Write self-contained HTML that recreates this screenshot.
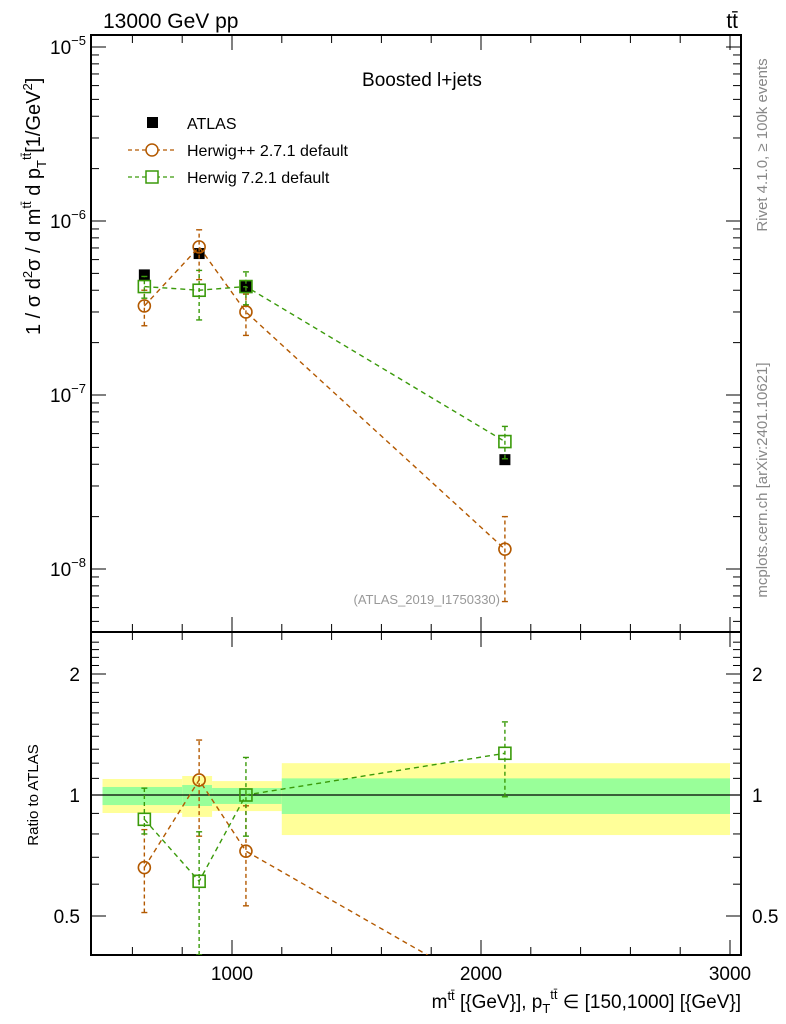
<!DOCTYPE html>
<html><head><meta charset="utf-8">
<style>
html,body{margin:0;padding:0;background:#fff;overflow:hidden;width:786px;height:1024px;}
svg{display:block;font-family:"Liberation Sans",sans-serif;}
</style></head>
<body>
<svg id="chart" width="786" height="1024" xmlns="http://www.w3.org/2000/svg">
<text x="103" y="28" font-size="21">13000 GeV pp</text>
<text x="738" y="28" font-size="21" text-anchor="end">tt̄</text>
<text x="422" y="86" font-size="19" text-anchor="middle">Boosted l+jets</text>
<text x="500" y="604" font-size="13" fill="#999" text-anchor="end">(ATLAS_2019_I1750330)</text>
<text transform="translate(767,145) rotate(-90)" font-size="15" fill="#888" text-anchor="middle">Rivet 4.1.0, ≥ 100k events</text>
<text transform="translate(767,480) rotate(-90)" font-size="15" fill="#888" text-anchor="middle">mcplots.cern.ch [arXiv:2401.10621]</text>
<text transform="translate(40,335) rotate(-90)" font-size="20">1 / σ d<tspan font-size="13" dy="-8">2</tspan><tspan dy="8">σ / d  m</tspan><tspan font-size="13" dy="-9">tt̄</tspan><tspan dy="9"> d p</tspan><tspan font-size="13" dy="6">T</tspan><tspan font-size="13" dy="-15">tt̄</tspan><tspan dy="9">[1/GeV</tspan><tspan font-size="13" dy="-8">2</tspan><tspan dy="8">]</tspan></text>
<text transform="translate(38,795) rotate(-90)" font-size="15" text-anchor="middle">Ratio to ATLAS</text>
<text x="741" y="1008" font-size="19" text-anchor="end">m<tspan font-size="13" dy="-8">tt̄</tspan><tspan dy="8"> [{GeV}], p</tspan><tspan font-size="13" dy="5">T</tspan><tspan font-size="13" dy="-14">tt̄</tspan><tspan dy="9"> ∈ [150,1000] [{GeV}]</tspan></text>
<g>
 <rect x="147" y="117" width="11" height="11" fill="#000"/>
 <text x="187" y="129" font-size="16">ATLAS</text>
 <line x1="128" y1="150" x2="176" y2="150" stroke="#b35900" stroke-dasharray="4,3" stroke-width="1.3"/>
 <circle cx="152" cy="150" r="6" fill="#fff" stroke="#b35900" stroke-width="1.5"/>
 <text x="187" y="156" font-size="16">Herwig++ 2.7.1 default</text>
 <line x1="128" y1="177" x2="176" y2="177" stroke="#3a9a0a" stroke-dasharray="4,3" stroke-width="1.3"/>
 <rect x="146" y="171" width="12" height="12" fill="#fff" stroke="#3a9a0a" stroke-width="1.5"/>
 <text x="187" y="183" font-size="16">Herwig 7.2.1 default</text>
</g>
<g id="plot"></g>
</svg>
<script>
const binEdges=[480,800,920,1200,3000];
const xCenters=[648,868,1056,2096];
const atlas=[4.9e-7,6.5e-7,4.2e-7,4.25e-8];
const hpp=[3.25e-7,7.1e-7,3.0e-7,1.3e-8];
const hppLo=[2.5e-7,4.6e-7,2.2e-7,6.5e-9];
const hppHi=[4.0e-7,8.9e-7,3.8e-7,2.0e-8];
const h7=[4.2e-7,4.0e-7,4.2e-7,5.4e-8];
const h7Lo=[3.6e-7,2.7e-7,3.3e-7,4.3e-8];
const h7Hi=[4.8e-7,5.2e-7,5.1e-7,6.6e-8];
const rHpp=[0.66,1.09,0.725,0.31];
const rHppLo=[0.51,0.79,0.53,0.15];
const rHppHi=[0.82,1.37,0.94,0.38];
const rH7=[0.87,0.61,1.0,1.27];
const rH7Lo=[0.80,0.40,0.79,0.99];
const rH7Hi=[1.04,0.81,1.24,1.52];
const band1Lo=[0.944,0.939,0.95,0.897];
const band1Hi=[1.047,1.059,1.041,1.10];
const band2Lo=[0.902,0.882,0.912,0.795];
const band2Hi=[1.096,1.115,1.083,1.20];
const mainTicks=[-5,-6,-7,-8];
const ratioTicks=[2,1,0.5];
const xTicks=[1000,2000,3000];

const L=91,R=741,T=35,B=632,RB=955;
const X=v=>232+(v-1000)*0.249;
const Y=v=>47+(-5-Math.log10(v))*174;
const RY=v=>795-Math.log2(v)*121;
const NS='http://www.w3.org/2000/svg';
const g=document.getElementById('plot');
function mk(tag,at){const e=document.createElementNS(NS,tag);for(const k in at)e.setAttribute(k,at[k]);g.appendChild(e);return e;}

const clipR=mk('clipPath',{id:'cr'});
const cr=document.createElementNS(NS,'rect');cr.setAttribute('x',L);cr.setAttribute('y',B);cr.setAttribute('width',R-L);cr.setAttribute('height',RB-B);clipR.appendChild(cr);
for(let i=0;i<4;i++){
 let e=mk('rect',{x:X(binEdges[i]),y:RY(band2Hi[i]),width:X(binEdges[i+1])-X(binEdges[i]),height:RY(band2Lo[i])-RY(band2Hi[i]),fill:'#ffff99'});
 
 
 e=mk('rect',{x:X(binEdges[i]),y:RY(band1Hi[i]),width:X(binEdges[i+1])-X(binEdges[i]),height:RY(band1Lo[i])-RY(band1Hi[i]),fill:'#99ff99'});
 
 
}
let ref=mk('line',{x1:L,x2:R,y1:RY(1),y2:RY(1),stroke:'#000','stroke-width':1.2});



let f=mk('rect',{x:L,y:T,width:R-L,height:B-T,fill:'none',stroke:'#000','stroke-width':2});


f=mk('rect',{x:L,y:B,width:R-L,height:RB-B,fill:'none',stroke:'#000','stroke-width':2});



for(let v=400;v<=3000;v+=200){const px=X(v);if(px<L||px>R)continue;const maj=v%1000===0;const len=maj?15:8;
 for(const [yb,yt] of [[B,T],[RB,B]]){mk('line',{x1:px,x2:px,y1:yb,y2:yb-len,stroke:'#000','stroke-width':1});mk('line',{x1:px,x2:px,y1:yt,y2:yt+len,stroke:'#000','stroke-width':1});}}
xTicks.forEach(v=>{const t=mk('text',{x:X(v),y:980,'font-size':19,'text-anchor':'middle'});t.textContent=v;
 
 });

for(let d=-9;d<=-5;d++){for(let m=1;m<10;m++){const v=m*Math.pow(10,d);const py=Y(v);if(py<T||py>B)continue;const len=m===1?15:8;
 mk('line',{x1:L,x2:L+len,y1:py,y2:py,stroke:'#000'});mk('line',{x1:R,x2:R-len,y1:py,y2:py,stroke:'#000'});}}
mainTicks.forEach(d=>{const t=mk('text',{x:86,y:Y(Math.pow(10,d))+7,'font-size':19,'text-anchor':'end'});
 t.innerHTML='10<tspan font-size="13" dy="-9">'+(d<0?'−'+(-d):d)+'</tspan>';
 
 });
for(let v=0.4;v<=2.41;v+=0.1){const vv=Math.round(v*10)/10;const py=RY(vv);if(py<B||py>RB)continue;const maj=[0.5,1,2].includes(vv);const len=maj?15:8;
 mk('line',{x1:L,x2:L+len,y1:py,y2:py,stroke:'#000'});mk('line',{x1:R,x2:R-len,y1:py,y2:py,stroke:'#000'});}
ratioTicks.forEach(v=>{for(const [x,a] of [[80,'end'],[752,'start']]){const t=mk('text',{x:x,y:RY(v)+7,'font-size':19,'text-anchor':a});t.textContent=v;
 
 }});

function series(vals,lo,hi,yf,col,shape,name,clip){
 const grp=mk('g',clip?{'clip-path':'url(#cr)'}:{});
 
 
 const pts=vals.map((v,i)=>X(xCenters[i])+','+yf(v)).join(' ');
 const pl=document.createElementNS(NS,'polyline');
 pl.setAttribute('points',pts);pl.setAttribute('fill','none');pl.setAttribute('stroke',col);pl.setAttribute('stroke-width',1.4);pl.setAttribute('stroke-dasharray','5,4');
 
 
 grp.appendChild(pl);
 vals.forEach((v,i)=>{const px=X(xCenters[i]);
  const el=document.createElementNS(NS,'line');
  el.setAttribute('x1',px);el.setAttribute('x2',px);el.setAttribute('y1',yf(lo[i]));el.setAttribute('y2',yf(hi[i]));el.setAttribute('stroke',col);el.setAttribute('stroke-width',1.4);el.setAttribute('stroke-dasharray','4,3');
  
  
  grp.appendChild(el);
  for(const yy of [yf(lo[i]),yf(hi[i])]){const c=document.createElementNS(NS,'line');c.setAttribute('x1',px-3);c.setAttribute('x2',px+3);c.setAttribute('y1',yy);c.setAttribute('y2',yy);c.setAttribute('stroke',col);c.setAttribute('stroke-width',1.4);grp.appendChild(c);}
  let m;
  if(shape==='circle'){m=document.createElementNS(NS,'circle');m.setAttribute('cx',px);m.setAttribute('cy',yf(v));m.setAttribute('r',6);}
  else{m=document.createElementNS(NS,'rect');m.setAttribute('x',px-6);m.setAttribute('y',yf(v)-6);m.setAttribute('width',12);m.setAttribute('height',12);}
  m.setAttribute('fill','none');m.setAttribute('stroke',col);m.setAttribute('stroke-width',1.6);
  
  
  grp.appendChild(m);});
}
atlas.forEach((v,i)=>{const r=mk('rect',{x:X(xCenters[i])-5.5,y:Y(v)-5.5,width:11,height:11,fill:'#000'});
 
 });
series(hpp,hppLo,hppHi,Y,'#b35900','circle','herwigpp-main',false);
series(h7,h7Lo,h7Hi,Y,'#3a9a0a','rect','herwig7-main',false);
series(rHpp,rHppLo,rHppHi,RY,'#b35900','circle','herwigpp-ratio',true);
series(rH7,rH7Lo,rH7Hi,RY,'#3a9a0a','rect','herwig7-ratio',true);
</script>
</body></html>
